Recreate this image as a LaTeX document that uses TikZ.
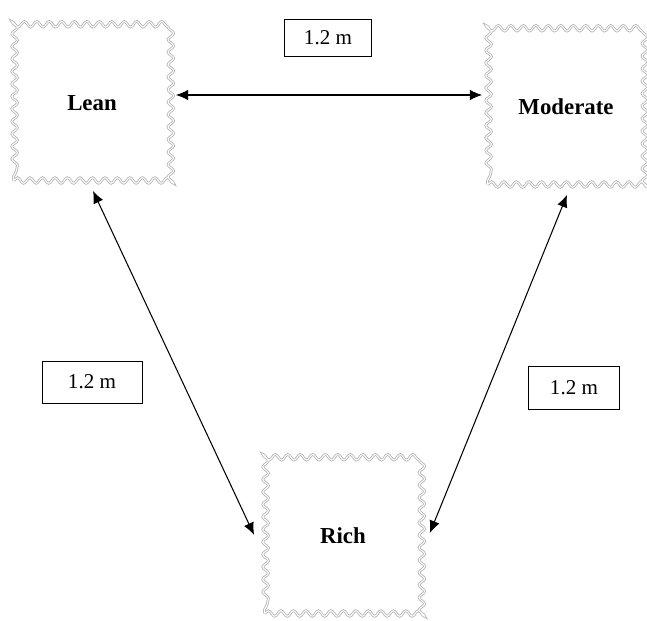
\documentclass[tikz,border=0pt]{standalone}
\usepackage{fontspec}
\setmainfont{Liberation Serif}
\usetikzlibrary{arrows.meta,decorations.pathmorphing}
\begin{document}
\begin{tikzpicture}[
    x=0.02cm, y=-0.02cm,
    zone/.style={draw=gray!60, line width=0.45pt, double=white, double distance=0.6pt,
        minimum width=3.14cm, minimum height=3.1cm,
        decorate, decoration={snake, segment length=0.25cm, amplitude=1.6pt},
        font=\fontsize{13}{15}\selectfont\bfseries},
    dist/.style={draw, thin, font=\fontsize{12}{14}\selectfont},
    arr/.style={{Latex[length=7pt,width=6pt]}-{Latex[length=7pt,width=6pt]}, line width=0.6pt}
]
    \useasboundingbox (0,0) rectangle (647,620);

    % Mixture zones
    \node[zone] (lean) at (92,103) {Lean};
    \node[zone] (moderate) at (566,107) {Moderate};
    \node[zone] (rich) at (343,536) {Rich};

    % Distance labels
    \node[dist, minimum width=1.74cm, minimum height=0.74cm] (dtop) at (328,38) {1.2 m};
    \node[dist, minimum width=2.0cm, minimum height=0.84cm] (dleft) at (92,382) {1.2 m};
    \node[dist, minimum width=1.82cm, minimum height=0.86cm] (dright) at (574,388) {1.2 m};

    % Arrows between zones
    \draw[arr] ([shift={(5,-8)}]lean.east) -- ([shift={(-5,-12)}]moderate.west);
    \draw[arr] ([shift={(1,10)}]lean.south) -- ([shift={(-10,-1)}]rich.west);
    \draw[arr] ([shift={(1,10)}]moderate.south) -- ([shift={(8,-3)}]rich.east);
\end{tikzpicture}
\end{document}
